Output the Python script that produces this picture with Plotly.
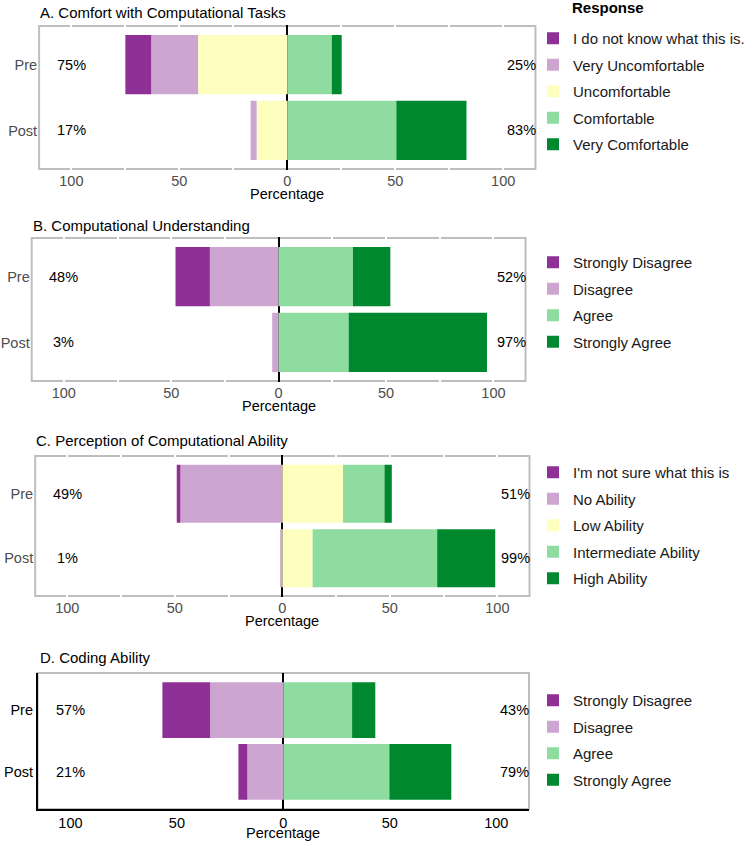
import plotly.graph_objects as go

# ---------------- data ----------------
groups = ["Pre", "Post"]

a_title = "A. Comfort with Computational Tasks"
a_levels = ["I do not know what this is.", "Very Uncomfortable", "Uncomfortable",
            "Comfortable", "Very Comfortable"]
a_dont_know = [12.0, 0.0]
a_very_uncomf = [21.7, 2.8]
a_uncomf = [41.3, 14.2]
a_comf = [20.6, 50.5]
a_very_comf = [4.6, 32.5]
a_left_pct = ["75%", "17%"]
a_right_pct = ["25%", "83%"]

b_title = "B. Computational Understanding"
b_levels = ["Strongly Disagree", "Disagree", "Agree", "Strongly Agree"]
b_str_disagree = [16.0, 0.0]
b_disagree = [32.0, 3.0]
b_agree = [34.6, 32.6]
b_str_agree = [17.4, 64.4]
b_left_pct = ["48%", "3%"]
b_right_pct = ["52%", "97%"]

c_title = "C. Perception of Computational Ability"
c_levels = ["I'm not sure what this is", "No Ability", "Low Ability",
            "Intermediate Ability", "High Ability"]
c_not_sure = [1.7, 0.0]
c_no_ability = [47.4, 1.0]
c_low_ability = [28.2, 14.1]
c_intermediate = [19.3, 57.9]
c_high_ability = [3.4, 27.0]
c_left_pct = ["49%", "1%"]
c_right_pct = ["51%", "99%"]

d_title = "D. Coding Ability"
d_levels = ["Strongly Disagree", "Disagree", "Agree", "Strongly Agree"]
d_str_disagree = [22.4, 4.2]
d_disagree = [34.4, 16.9]
d_agree = [32.3, 49.8]
d_str_agree = [10.9, 29.1]
d_left_pct = ["57%", "21%"]
d_right_pct = ["43%", "79%"]

x_tick_vals = [-100, -50, 0, 50, 100]
x_tick_text = ["100", "50", "0", "50", "100"]
x_minor_vals = [-75, -25, 25, 75]

# ---------------- styles ----------------
DPURPLE = "#8E3096"
LPURPLE = "#CCA6D1"
YELLOW = "#FEFEBF"
LGREEN = "#8EDCA0"
DGREEN = "#00882F"
FONT = "Liberation Sans, Arial, Helvetica, sans-serif"
W, H = 750, 841

panels = [
    dict(key="A", title=a_title, levels=a_levels,
         values=[a_dont_know, a_very_uncomf, a_uncomf, a_comf, a_very_comf],
         n_neg=3, colors=[DPURPLE, LPURPLE, YELLOW, LGREEN, DGREEN],
         left=a_left_pct, right=a_right_pct,
         box=(38.5, 541.5, 25, 170), title_y=13, leg_y=38, classic=False),
    dict(key="B", title=b_title, levels=b_levels,
         values=[b_str_disagree, b_disagree, b_agree, b_str_agree],
         n_neg=2, colors=[DPURPLE, LPURPLE, LGREEN, DGREEN],
         left=b_left_pct, right=b_right_pct,
         box=(31, 531.5, 237, 382), title_y=226, leg_y=262, classic=False),
    dict(key="C", title=c_title, levels=c_levels,
         values=[c_not_sure, c_no_ability, c_low_ability, c_intermediate, c_high_ability],
         n_neg=2, colors=[DPURPLE, LPURPLE, YELLOW, LGREEN, DGREEN],
         left=c_left_pct, right=c_right_pct,
         box=(34.5, 535.5, 455, 597), title_y=440, leg_y=472, classic=False),
    dict(key="D", title=d_title, levels=d_levels,
         values=[d_str_disagree, d_disagree, d_agree, d_str_agree],
         n_neg=2, colors=[DPURPLE, LPURPLE, LGREEN, DGREEN],
         left=d_left_pct, right=d_right_pct,
         box=(38, 534, 673, 809), title_y=657, leg_y=700, classic=True),
]

XR = 115.4
fig = go.Figure()
annotations = []
shapes = []
layout_updates = {}

for i, p in enumerate(panels):
    n = i + 1
    sfx = "" if n == 1 else str(n)
    xa, ya = "x" + sfx, "y" + sfx
    leg = "legend" + sfx
    n_neg = p["n_neg"]
    nlev = len(p["levels"])
    order = list(range(n_neg - 1, -1, -1)) + list(range(n_neg, nlev))
    for j in order:
        sign = -1 if j < n_neg else 1
        fig.add_trace(go.Bar(
            y=groups, x=[sign * v for v in p["values"][j]], orientation="h",
            name=p["levels"][j], width=0.9,
            marker=dict(color=p["colors"][j], line=dict(width=0)),
            xaxis=xa, yaxis=ya, legend=leg, legendrank=j + 1,
            legendgroup=p["key"] + str(j), hoverinfo="skip",
        ))

    x0, x1, y0, y1 = p["box"]
    tick_col = "#000000" if p["classic"] else "#4D4D4D"
    layout_updates["xaxis" + sfx] = dict(
        domain=[x0 / W, x1 / W], anchor=ya, range=[-XR, XR],
        tickvals=x_tick_vals, ticktext=x_tick_text, ticks="",
        showgrid=not p["classic"], gridcolor="white", gridwidth=2,
        minor=dict(tickvals=x_minor_vals, showgrid=not p["classic"],
                   gridcolor="white", gridwidth=2),
        zeroline=True, zerolinecolor="black", zerolinewidth=1.5,
        showline=p["classic"], linecolor="black", linewidth=1.5,
        tickfont=dict(family=FONT, size=14.5, color=tick_col),
        fixedrange=True, automargin=False,
    )
    layout_updates["yaxis" + sfx] = dict(
        domain=[1 - y1 / H, 1 - y0 / H], anchor=xa, type="category",
        categoryorder="array", categoryarray=["Post", "Pre"],
        range=[-0.6, 1.6], ticks="", showgrid=False, zeroline=False,
        showline=p["classic"], linecolor="black", linewidth=1.5,
        tickfont=dict(family=FONT, size=14.5, color=tick_col),
        fixedrange=True, automargin=False,
    )
    layout_updates[leg] = dict(
        x=538 / W, xanchor="left", y=1 - (p["leg_y"] - 16) / H, yanchor="top",
        font=dict(family=FONT, size=15, color="#1A1A1A"),
        bgcolor="rgba(0,0,0,0)", tracegroupgap=4, traceorder="grouped",
    )

    # panel border (grey), drawn beneath the white grid lines
    inset_x = 0 if p["classic"] else 1.0 / (x1 - x0)
    inset_y = 0 if p["classic"] else 1.0 / (y1 - y0)
    shapes.append(dict(
        type="rect", xref=xa + " domain", yref=ya + " domain",
        x0=inset_x, x1=1 - inset_x, y0=inset_y, y1=1 - inset_y,
        line=dict(color="#BEBEBE", width=2), fillcolor="rgba(0,0,0,0)",
        layer="below",
    ))

    # panel title
    annotations.append(dict(
        text=p["title"], xref="paper", yref="paper", x=x0 / W, y=1 - p["title_y"] / H,
        xanchor="left", yanchor="middle", showarrow=False,
        font=dict(family=FONT, size=15, color="#000000"),
    ))
    # x axis title
    annotations.append(dict(
        text="Percentage", xref=xa, yref="paper", x=0, y=1 - (y1 + 24) / H,
        xanchor="center", yanchor="middle", showarrow=False,
        font=dict(family=FONT, size=14.5, color="#000000"),
    ))
    # side percentage labels
    for g, lt, rt in zip(groups, p["left"], p["right"]):
        annotations.append(dict(text=lt, xref=xa, yref=ya, x=-100, y=g,
                                xanchor="center", yanchor="middle", showarrow=False,
                                font=dict(family=FONT, size=14.5, color="#000000")))
        annotations.append(dict(text=rt, xref=xa, yref=ya, x=108.5, y=g,
                                xanchor="center", yanchor="middle", showarrow=False,
                                font=dict(family=FONT, size=14.5, color="#000000")))

annotations.append(dict(
    text="<b>Response</b>", xref="paper", yref="paper", x=575 / W, y=1 - 8 / H,
    xanchor="left", yanchor="middle", showarrow=False,
    font=dict(family=FONT, size=15, color="#000000"),
))

fig.update_layout(
    width=W, height=H, margin=dict(l=0, r=0, t=0, b=0, pad=0),
    paper_bgcolor="white", plot_bgcolor="white",
    barmode="relative", bargap=0.1,
    font=dict(family=FONT, size=14.5, color="#000000"),
    annotations=annotations, shapes=shapes,
    **layout_updates,
)

fig.write_html("out.html", config={"displayModeBar": False},
               post_script="document.body.style.margin='0px';document.body.style.overflow='hidden';")
